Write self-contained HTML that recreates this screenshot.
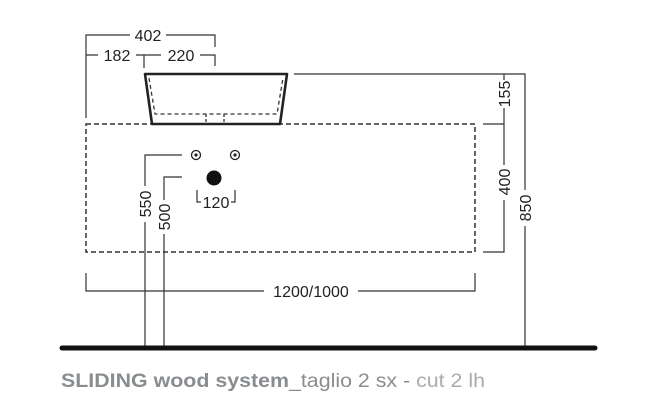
<!DOCTYPE html>
<html><head><style>
html,body{margin:0;padding:0;background:#fff;}
svg{display:block;}
text{font-family:"Liberation Sans",Arial,sans-serif;fill:#222;}
</style></head><body>
<svg width="661" height="406" viewBox="0 0 661 406" xmlns="http://www.w3.org/2000/svg">
<g stroke="#333" stroke-width="1.2" fill="none">
  <path d="M86 118 V35 H130 M166 35 H215 V47"/>
  <path d="M86 55 H98 M136 55 H161 M144 55 V68 M200 55 H215 V66"/>
  <path d="M294 74 H525 V348"/>
  <path d="M504 74 V80 M504 108 V165 M504 200 V252 H483 M483 124 H504"/>
  <path d="M86 273 V291 H264 M358 291 H475 V273"/>
  <path d="M182 155 H145 V186 M145 222 V348"/>
  <path d="M182 177 H164 V200 M164 234 V348"/>
  <path d="M197 190 V202 H201 M231 202 H235 V190"/>
  <path d="M525 190 V226" stroke="#fff" stroke-width="3"/>
</g>
<rect x="86" y="124" width="389" height="128" fill="none" stroke="#333" stroke-width="1.5" stroke-dasharray="5,3"/>
<path d="M145 74 L287 74 L280 124 L152 124 Z" fill="#fff" stroke="#222" stroke-width="2.6" stroke-linejoin="round"/>
<path d="M149 78 L155 114 H277 L283 78" fill="none" stroke="#333" stroke-width="1.3" stroke-dasharray="4,3"/>
<path d="M206 114 V124 M224 114 V124" stroke="#333" stroke-width="1.3" stroke-dasharray="3,2"/>
<circle cx="196" cy="155" r="4.5" fill="none" stroke="#222" stroke-width="1.3"/>
<circle cx="196" cy="155" r="1.6" fill="#222"/>
<circle cx="235" cy="155" r="4.5" fill="none" stroke="#222" stroke-width="1.3"/>
<circle cx="235" cy="155" r="1.6" fill="#222"/>
<circle cx="214" cy="178" r="7.5" fill="#111"/>
<line x1="62" y1="348" x2="595" y2="348" stroke="#111" stroke-width="5" stroke-linecap="round"/>
<g font-size="16">
<text x="148" y="41" text-anchor="middle">402</text>
<text x="117" y="61" text-anchor="middle">182</text>
<text x="181" y="61" text-anchor="middle">220</text>
<text x="216" y="208" text-anchor="middle">120</text>
<text x="311" y="297" text-anchor="middle">1200/1000</text>
<text transform="translate(151,204) rotate(-90)" text-anchor="middle">550</text>
<text transform="translate(170,217) rotate(-90)" text-anchor="middle">500</text>
<text transform="translate(510,94) rotate(-90)" text-anchor="middle">155</text>
<text transform="translate(510,182) rotate(-90)" text-anchor="middle">400</text>
<text transform="translate(531,208) rotate(-90)" text-anchor="middle">850</text>
</g>
<text x="61" y="387" font-size="19" textLength="424" lengthAdjust="spacingAndGlyphs" style="fill:#8a8d90"><tspan font-weight="bold">SLIDING wood system</tspan><tspan>_taglio 2 sx - </tspan><tspan style="fill:#a9abad">cut 2 lh</tspan></text>
</svg>
</body></html>
